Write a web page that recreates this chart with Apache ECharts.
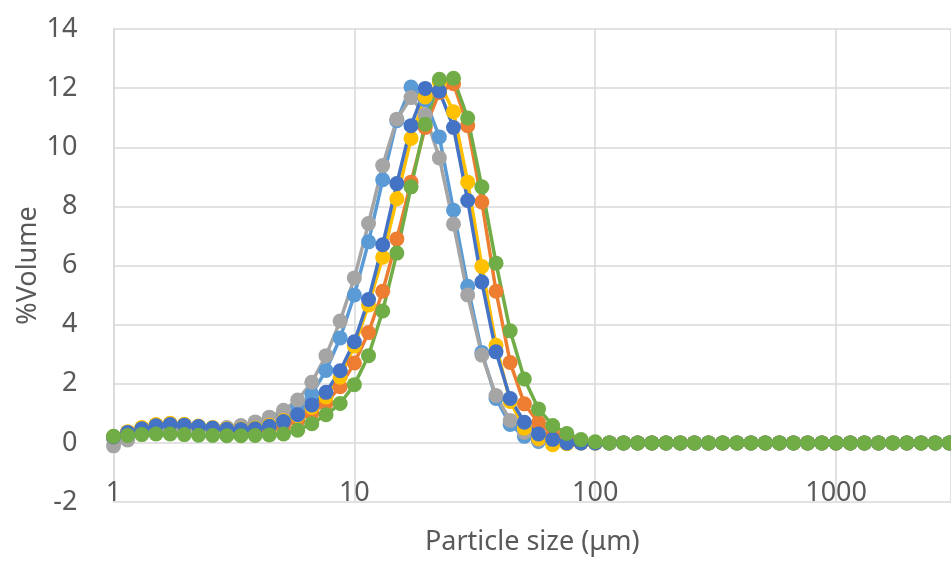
<!DOCTYPE html>
<html>
<head>
<meta charset="utf-8">
<script src="https://cdn.jsdelivr.net/npm/echarts@6/dist/echarts.min.js"></script>
<style>
html,body{margin:0;padding:0;background:#fff;}
#chart{width:951px;height:561px;}
</style>
</head>
<body>
<div id="chart"></div>
<script>
// Particle size classes (µm)
var sizes = [1, 1.145, 1.311, 1.501, 1.719, 1.968, 2.254, 2.58, 2.955, 3.383,
  3.874, 4.435, 5.079, 5.815, 6.658, 7.624, 8.73, 10, 11.45, 13.11,
  15.01, 17.19, 19.68, 22.54, 25.8, 29.55, 33.83, 38.74, 44.35, 50.79,
  58.15, 66.58, 76.24, 87.3, 100, 114.5, 131.1, 150.1, 171.9, 196.8,
  225.4, 258, 295.5, 338.3, 387.4, 443.5, 507.9, 581.5, 665.8, 762.4,
  873, 1000, 1145, 1311, 1501, 1719, 1968, 2254, 2580, 2955];

var lightBlue = [0.15, 0.3, 0.42, 0.5, 0.55, 0.55, 0.5, 0.47, 0.47, 0.5,
  0.6, 0.72, 0.9, 1.2, 1.65, 2.45, 3.55, 5.0, 6.8, 8.9,
  10.9, 12.04, 11.6, 10.35, 7.87, 5.3, 3.06, 1.5, 0.62, 0.22,
  0.05, 0.01, 0, 0, 0, 0, 0, 0, 0, 0,
  0, 0, 0, 0, 0, 0, 0, 0, 0, 0,
  0, 0, 0, 0, 0, 0, 0, 0, 0, 0];

var orange = [0.2, 0.35, 0.5, 0.6, 0.63, 0.6, 0.53, 0.47, 0.42, 0.4,
  0.4, 0.45, 0.55, 0.75, 1.0, 1.35, 1.9, 2.7, 3.73, 5.13,
  6.9, 8.82, 10.67, 11.85, 12.15, 10.73, 8.15, 5.13, 2.72, 1.32,
  0.68, 0.3, 0.1, 0.02, 0, 0, 0, 0, 0, 0,
  0, 0, 0, 0, 0, 0, 0, 0, 0, 0,
  0, 0, 0, 0, 0, 0, 0, 0, 0, 0];

var grey = [-0.1, 0.1, 0.3, 0.42, 0.48, 0.48, 0.47, 0.48, 0.52, 0.59,
  0.71, 0.87, 1.1, 1.45, 2.05, 2.95, 4.12, 5.58, 7.42, 9.38,
  10.95, 11.68, 11.1, 9.64, 7.4, 5.0, 2.97, 1.6, 0.76, 0.35,
  0.1, 0.02, 0, 0, 0, 0, 0, 0, 0, 0,
  0, 0, 0, 0, 0, 0, 0, 0, 0, 0,
  0, 0, 0, 0, 0, 0, 0, 0, 0, 0];

var yellow = [0.2, 0.38, 0.52, 0.62, 0.66, 0.63, 0.57, 0.52, 0.48, 0.47,
  0.5, 0.6, 0.76, 0.92, 1.2, 1.55, 2.22, 3.28, 4.66, 6.28,
  8.26, 10.3, 11.7, 12.2, 11.2, 8.82, 5.97, 3.3, 1.4, 0.5,
  0.15, -0.06, -0.03, 0, 0, 0, 0, 0, 0, 0,
  0, 0, 0, 0, 0, 0, 0, 0, 0, 0,
  0, 0, 0, 0, 0, 0, 0, 0, 0, 0];

var darkBlue = [0.2, 0.35, 0.48, 0.58, 0.62, 0.6, 0.55, 0.5, 0.46, 0.45,
  0.48, 0.56, 0.72, 0.95, 1.28, 1.71, 2.44, 3.42, 4.85, 6.7,
  8.77, 10.73, 11.99, 11.9, 10.67, 8.2, 5.44, 3.08, 1.5, 0.7,
  0.3, 0.12, 0, 0, 0, 0, 0, 0, 0, 0,
  0, 0, 0, 0, 0, 0, 0, 0, 0, 0,
  0, 0, 0, 0, 0, 0, 0, 0, 0, 0];

var green = [0.22, 0.25, 0.28, 0.3, 0.3, 0.28, 0.26, 0.25, 0.24, 0.24,
  0.25, 0.27, 0.3, 0.43, 0.65, 0.95, 1.33, 1.97, 2.95, 4.46,
  6.42, 8.66, 10.78, 12.3, 12.33, 10.99, 8.66, 6.08, 3.79, 2.16,
  1.15, 0.59, 0.32, 0.11, 0.04, 0, 0, 0, 0, 0,
  0, 0, 0, 0, 0, 0, 0, 0, 0, 0,
  0, 0, 0, 0, 0, 0, 0, 0, 0, 0];

var xTickLabels = ['1', '10', '100', '1000'];
var yTitle = '%Volume';
var xTitle = 'Particle size (μm)';

var seriesDefs = [
  {name: 'S1', values: lightBlue, color: '#5B9BD5'},
  {name: 'S2', values: orange, color: '#ED7D31'},
  {name: 'S3', values: grey, color: '#A5A5A5'},
  {name: 'S4', values: yellow, color: '#FFC000'},
  {name: 'S5', values: darkBlue, color: '#4472C4'},
  {name: 'S6', values: green, color: '#70AD47'}
];

var FONT = '"Noto Sans", sans-serif';
var TXT = '#595959';
var GRID = '#D9D9D9';

var chart = echarts.init(document.getElementById('chart'), null, {renderer: 'canvas'});
chart.setOption({
  animation: false,
  backgroundColor: '#ffffff',
  grid: {left: 113.5, top: 29, right: 0, bottom: 56, containLabel: false},
  xAxis: {
    type: 'log', logBase: 10, min: 1, max: 3000,
    name: xTitle, nameLocation: 'middle', nameGap: 27, nameMoveOverlap: false,
    nameTextStyle: {fontFamily: FONT, fontSize: 27, color: TXT},
    axisLine: {show: false},
    axisTick: {show: false},
    axisLabel: {
      margin: -22, fontFamily: FONT, fontSize: 27, color: TXT,
      showMaxLabel: false,
      formatter: function (v) {
        var s = String(Math.round(v));
        return xTickLabels.indexOf(s) >= 0 ? s : '';
      }
    },
    splitLine: {show: true, lineStyle: {color: GRID, width: 1.5}},
    minorTick: {show: false}
  },
  yAxis: {
    type: 'value', min: -2, max: 14, interval: 2,
    name: yTitle, nameLocation: 'middle', nameGap: 72, nameRotate: 90, nameMoveOverlap: false,
    nameTextStyle: {fontFamily: FONT, fontSize: 27, color: TXT},
    axisLine: {show: true, lineStyle: {color: GRID, width: 1.5}},
    axisTick: {show: false},
    axisLabel: {margin: 36, fontFamily: FONT, fontSize: 27, color: TXT},
    splitLine: {show: true, lineStyle: {color: GRID, width: 1.5}}
  },
  series: seriesDefs.map(function (s) {
    return {
      name: s.name,
      type: 'line',
      data: sizes.map(function (x, i) { return [x, s.values[i]]; }),
      symbol: 'circle',
      symbolSize: 15,
      showAllSymbol: true,
      lineStyle: {color: s.color, width: 3.5},
      itemStyle: {color: s.color},
      clip: true
    };
  })
});
</script>
</body>
</html>
